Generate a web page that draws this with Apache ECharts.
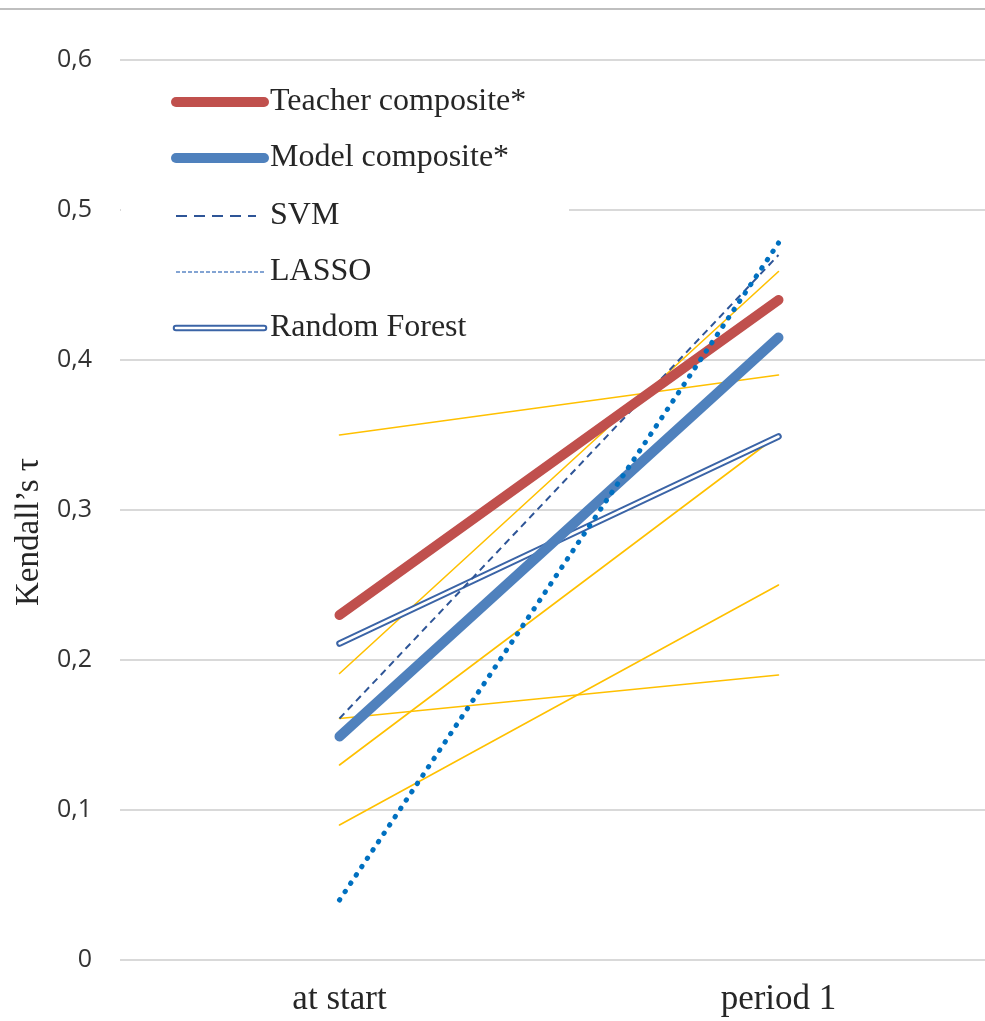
<!DOCTYPE html>
<html>
<head>
<meta charset="utf-8">
<script src="https://cdn.jsdelivr.net/npm/echarts@6/dist/echarts.min.js"></script>
<style>
html,body{margin:0;padding:0;background:#fff;}
#chart{width:985px;height:1021px;}
</style>
</head>
<body>
<div id="chart"></div>
<script>
// ---- data ----
var categories = ['at start', 'period 1'];
var yTicks = [0, 0.1, 0.2, 0.3, 0.4, 0.5, 0.6];
var teacherComposite = [0.23, 0.44];
var modelComposite = [0.149, 0.415];
var svm = [0.161, 0.47];
var lasso = [0.04, 0.478];
var randomForest = [0.211, 0.349];
var otherA = [0.35, 0.39];
var otherB = [0.191, 0.459];
var otherC = [0.161, 0.19];
var otherD = [0.13, 0.35];
var otherE = [0.09, 0.25];
var legendNames = ['Teacher composite*', 'Model composite*', 'SVM', 'LASSO', 'Random Forest'];
var yTitle = 'Kendall\u2019s \u03c4';

var SERIF = '"Liberation Serif", "Times New Roman", serif';
var SANS = '"Open Sans", "Noto Sans", sans-serif';

var chart = echarts.init(document.getElementById('chart'), null, {renderer: 'canvas'});

function line(name, data, style, z) {
  return {
    name: name, type: 'line', data: data, symbol: 'none', showSymbol: false,
    silent: true, z: z, lineStyle: style, animation: false
  };
}
var yellow = {color: '#FFC000', width: 1.6, cap: 'round'};

var series = [
  line('other1', otherA, yellow, 2),
  line('other2', otherB, yellow, 2),
  line('other3', otherC, yellow, 2),
  line('other4', otherD, yellow, 2),
  line('other5', otherE, yellow, 2),
  line(legendNames[4], randomForest, {color: '#3B64A6', width: 6.5, cap: 'round'}, 3),
  line(legendNames[4] + ' inner', randomForest, {color: '#ffffff', width: 2.5, cap: 'round'}, 3),
  line(legendNames[2], svm, {color: '#2E5597', width: 2, type: [7, 5]}, 4),
  line(legendNames[1], modelComposite, {color: '#4F81BD', width: 10, cap: 'round'}, 5),
  line(legendNames[0], teacherComposite, {color: '#C0504D', width: 10, cap: 'round'}, 6),
  line(legendNames[3], lasso, {color: '#0070C0', width: 5, type: [0.5, 9.5], cap: 'round'}, 7)
];

// legend drawn as graphic elements
var legendRows = [
  {y: 102, kind: 'thick', color: '#C0504D'},
  {y: 158, kind: 'thick', color: '#4F81BD'},
  {y: 216, kind: 'dash', color: '#2E5597'},
  {y: 272, kind: 'fine', color: '#5B87C5'},
  {y: 328, kind: 'double', color: '#3B64A6'}
];
var graphics = [
  {type: 'line', z: 1, shape: {x1: 0, y1: 9, x2: 985, y2: 9}, style: {stroke: '#BFBFBF', lineWidth: 2}},
  {type: 'rect', z: 1, shape: {x: 121, y: 68, width: 448, height: 282}, style: {fill: '#ffffff'}},
  {type: 'text', z: 10, x: 29, y: 532, rotation: Math.PI / 2,
   style: {text: yTitle, font: '33px ' + SERIF, fill: '#262626', align: 'center', verticalAlign: 'middle'}}
];
legendRows.forEach(function (r, i) {
  var x1 = 176, x2 = 264;
  if (r.kind === 'thick') {
    graphics.push({type: 'line', z: 10, shape: {x1: x1, y1: r.y, x2: x2, y2: r.y},
      style: {stroke: r.color, lineWidth: 10, lineCap: 'round'}});
  } else if (r.kind === 'dash') {
    graphics.push({type: 'line', z: 10, shape: {x1: x1, y1: r.y, x2: 256, y2: r.y},
      style: {stroke: r.color, lineWidth: 2, lineDash: [11, 7]}});
  } else if (r.kind === 'fine') {
    graphics.push({type: 'line', z: 10, shape: {x1: x1, y1: r.y, x2: x2, y2: r.y},
      style: {stroke: r.color, lineWidth: 1.5, lineDash: [4, 2]}});
  } else {
    graphics.push({type: 'line', z: 10, shape: {x1: x1, y1: r.y, x2: x2, y2: r.y},
      style: {stroke: r.color, lineWidth: 6.5, lineCap: 'round'}});
    graphics.push({type: 'line', z: 11, shape: {x1: x1, y1: r.y, x2: x2, y2: r.y},
      style: {stroke: '#ffffff', lineWidth: 2.5, lineCap: 'round'}});
  }
  graphics.push({type: 'text', z: 10, x: 270, y: r.y,
    style: {text: legendNames[i], font: '32px ' + SERIF, fill: '#262626', verticalAlign: 'middle', align: 'left'}});
});

chart.setOption({
  animation: false,
  backgroundColor: '#ffffff',
  grid: {left: 120, width: 878, top: 60, bottom: 61, containLabel: false, outerBoundsMode: 'none'},
  xAxis: {
    type: 'category', data: categories, boundaryGap: true,
    axisLine: {show: false}, axisTick: {show: false},
    axisLabel: {fontFamily: SERIF, fontSize: 35, color: '#262626', margin: 22, lineHeight: 35}
  },
  yAxis: {
    type: 'value', min: 0, max: 0.6, interval: 0.1,
    axisLine: {show: false}, axisTick: {show: false},
    axisLabel: {fontFamily: SANS, fontSize: 25, color: '#333333', margin: 28,
      formatter: function (v) {
        var t = yTicks.find(function (k) { return Math.abs(k - v) < 1e-9; });
        var s = (t === undefined ? v : t);
        return s === 0 ? '0' : s.toFixed(1).replace('.', ',');
      }},
    splitLine: {lineStyle: {color: '#D9D9D9', width: 2}}
  },
  graphic: graphics,
  series: series
});
</script>
</body>
</html>
